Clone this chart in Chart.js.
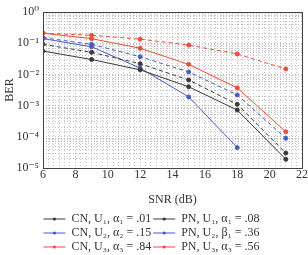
<!DOCTYPE html>
<html><head><meta charset="utf-8">
<script src="https://cdn.jsdelivr.net/npm/chart.js@4"></script>
<style>
html,body{margin:0;padding:0;background:#fff;overflow:hidden;width:308px;height:255px;}
#wrap{position:relative;width:308px;height:264px;}
</style></head>
<body><div id="wrap"><canvas id="c" width="308" height="264"></canvas></div>
<script>
const snr = [6, 9, 12, 15, 18, 21];
const cnU1 = [0.092, 0.051, 0.022, 0.0066, 0.0011, 0.00003];
const cnU2 = [0.15, 0.092, 0.037, 0.012, 0.0022, 0.00009];
const cnU3 = [0.21, 0.18, 0.135, 0.087, 0.045, 0.015];
const pnU1 = [0.056, 0.030, 0.014, 0.0040, 0.00072, 0.000019];
const pnU2 = [0.14, 0.077, 0.016, 0.0019, 0.000045];
const pnU3 = [0.21, 0.14, 0.069, 0.021, 0.0037, 0.000145];
const labels = {
  cn1: 'CN, U\u2081, \u03B1\u2081 = .01',
  cn2: 'CN, U\u2082, \u03B1\u2082 = .15',
  cn3: 'CN, U\u2083, \u03B1\u2083 = .84',
  pn1: 'PN, U\u2081, \u03B1\u2081 = .08',
  pn2: 'PN, U\u2082, \u03B2\u2081 = .36',
  pn3: 'PN, U\u2083, \u03B1\u2083 = .56'
};
const yTickLabels = {'1':'10\u2070','0.1':'10\u207B\u00B9','0.01':'10\u207B\u00B2','0.001':'10\u207B\u00B3','0.0001':'10\u207B\u2074','0.00001':'10\u207B\u2075'};
const xTickLabels = [6, 8, 10, 12, 14, 16, 18, 20, 22];

const BLACK = '#3a3a3a', BLUE = '#4a5cc0', RED = '#ee4c3c';
function pts(arr){ return arr.map((v,i)=>({x:snr[i], y:v})); }
function ds(label, data, color, dashed){
  return {label, data: pts(data), borderColor: color, backgroundColor: color,
    borderWidth: 1, borderDash: dashed ? [4,3] : [], pointRadius: 2,
    pointBorderWidth: 1, pointHoverRadius: 0, tension: 0, fill: false};
}
const datasets = [
  ds(labels.cn1, cnU1, BLACK, true),
  ds(labels.pn1, pnU1, BLACK, false),
  ds(labels.cn2, cnU2, BLUE, true),
  ds(labels.pn2, pnU2, BLUE, false),
  ds(labels.cn3, cnU3, RED, true),
  ds(labels.pn3, pnU3, RED, false)
];
const SERIF = "'Liberation Serif','DejaVu Serif',serif";
const gridColor = '#b4b4b4';
const LEG_BOX = 22;
const frame = {
  id: 'frame',
  afterDatasetsDraw(chart){
    const {ctx, chartArea: a} = chart;
    ctx.save(); ctx.strokeStyle = '#444'; ctx.lineWidth = 1; ctx.setLineDash([]);
    ctx.strokeRect(Math.round(a.left)+0.5, Math.round(a.top)+0.5, Math.round(a.right-a.left), Math.round(a.bottom-a.top));
    ctx.restore();
  },
  afterDraw(chart){
    const lg = chart.legend; if (!lg || !lg.legendHitBoxes) return;
    const ctx = chart.ctx; ctx.save();
    lg.legendHitBoxes.forEach((hb, i) => {
      const d = chart.data.datasets[lg.legendItems[i].datasetIndex];
      ctx.fillStyle = d.borderColor;
      ctx.beginPath(); ctx.arc(hb.left + LEG_BOX/2, hb.top + hb.height/2, 1.6, 0, Math.PI*2); ctx.fill();
    });
    ctx.restore();
  }
};
new Chart(document.getElementById('c'), {
  type: 'line',
  data: {datasets},
  plugins: [frame],
  options: {
    responsive: false, animation: false, events: [],
    layout: {padding: {left: 0, right: 5, top: 12, bottom: 1}},
    plugins: {
      legend: {position: 'bottom', align: 'center',
        labels: {font: {family: SERIF, size: 12}, color: '#333', usePointStyle: true,
          pointStyle: 'line', pointStyleWidth: LEG_BOX, boxWidth: LEG_BOX, boxHeight: 8, padding: 2}},
      tooltip: {enabled: false}
    },
    scales: {
      x: {type: 'linear', min: 6, max: 22,
        afterFit: (s) => { s.height = 43; },
        afterBuildTicks: (s) => { const t=[]; for (let i=0;i<=48;i++) t.push({value: 6 + i/3}); s.ticks = t; },
        ticks: {autoSkip: false, maxRotation: 0, padding: 0, font: {family: SERIF, size: 12}, color: '#333',
          callback: (v) => { const r = Math.round(v); return (Math.abs(v-r) < 1e-6 && xTickLabels.includes(r)) ? String(r) : ''; }},
        grid: {color: gridColor, lineWidth: 0.8, drawTicks: false},
        border: {display: false, dash: [1,2]},
        title: {display: true, text: 'SNR (dB)', font: {family: SERIF, size: 12}, color: '#333', padding: {top: 4, bottom: 4}}
      },
      y: {type: 'logarithmic', min: 1e-5, max: 1,
        afterFit: (s) => { s.width = 43; },
        ticks: {autoSkip: false, font: {family: SERIF, size: 12}, color: '#333', padding: 4,
          callback: (v) => { const k = String(+v.toPrecision(6)); return yTickLabels[k] !== undefined ? yTickLabels[k] : ''; }},
        grid: {color: gridColor, lineWidth: 0.8, drawTicks: false},
        border: {display: false, dash: [1,2]},
        title: {display: true, text: 'BER', font: {family: SERIF, size: 12}, color: '#333', padding: {top: 3, bottom: 0}}
      }
    }
  }
});
</script></body></html>
